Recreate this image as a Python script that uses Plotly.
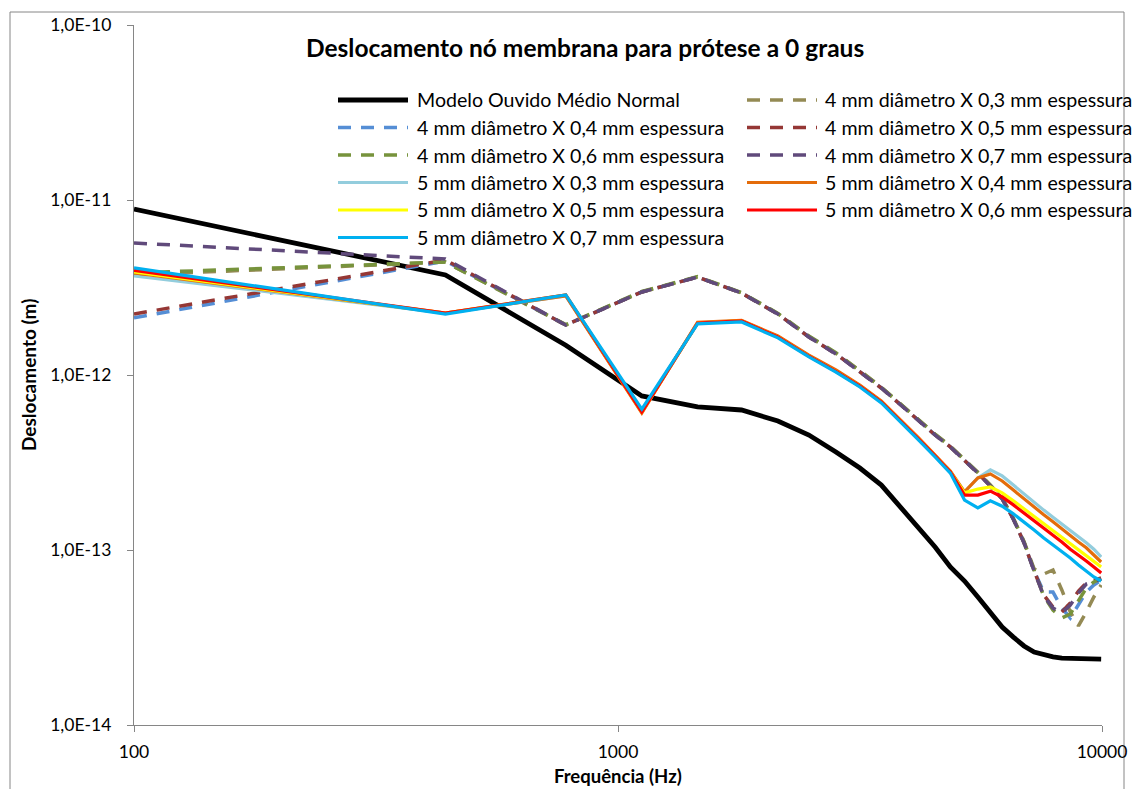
import plotly.graph_objects as go

# Frequency sweep (Hz)
freq_hz = [100, 440, 780, 1120, 1460, 1800, 2140, 2480, 2820, 3160,
           3500, 3840, 4180, 4520, 4860, 5200, 5540, 5880, 6220, 6560,
           6900, 7240, 7580, 7920, 8260, 8600, 8940, 9280, 9620, 9960]

# Membrane node displacement (m)
modelo_normal = [8.88e-12, 3.73e-12, 1.48e-12, 7.59e-13, 6.57e-13, 6.31e-13, 5.46e-13, 4.54e-13, 3.63e-13, 2.94e-13,
                 2.35e-13, 1.74e-13, 1.34e-13, 1.04e-13, 8.0e-14, 6.65e-14, 5.39e-14, 4.42e-14, 3.63e-14, 3.18e-14,
                 2.83e-14, 2.61e-14, 2.51e-14, 2.45e-14, 2.41e-14, 2.40e-14, 2.40e-14, 2.39e-14, 2.38e-14, 2.38e-14]

d4_e03 = [3.73e-12, 4.42e-12, 1.93e-12, 2.98e-12, 3.63e-12, 2.94e-12, 2.24e-12, 1.66e-12, 1.33e-12, 1.06e-12,
          8.50e-13, 6.80e-13, 5.52e-13, 4.60e-13, 3.92e-13, 3.30e-13, 2.78e-13, 2.35e-13, 1.98e-13, 1.52e-13,
          1.12e-13, 7.80e-14, 7.29e-14, 7.69e-14, 5.91e-14, 4.42e-14, 3.68e-14, 4.42e-14, 5.39e-14, 6.31e-14]
d4_e04 = [2.12e-12, 4.48e-12, 1.93e-12, 2.98e-12, 3.63e-12, 2.94e-12, 2.23e-12, 1.65e-12, 1.32e-12, 1.05e-12,
          8.43e-13, 6.74e-13, 5.46e-13, 4.54e-13, 3.88e-13, 3.27e-13, 2.75e-13, 2.32e-13, 1.96e-13, 1.50e-13,
          1.10e-13, 7.59e-14, 5.75e-14, 5.75e-14, 4.66e-14, 4.09e-14, 4.85e-14, 5.75e-14, 6.31e-14, 6.74e-14]
d4_e05 = [2.23e-12, 4.54e-12, 1.93e-12, 2.98e-12, 3.63e-12, 2.94e-12, 2.23e-12, 1.65e-12, 1.32e-12, 1.05e-12,
          8.43e-13, 6.74e-13, 5.46e-13, 4.54e-13, 3.88e-13, 3.27e-13, 2.75e-13, 2.32e-13, 1.96e-13, 1.50e-13,
          1.10e-13, 7.59e-14, 5.53e-14, 4.72e-14, 4.42e-14, 4.98e-14, 5.83e-14, 6.48e-14, 6.74e-14, 6.92e-14]
d4_e06 = [3.83e-12, 4.42e-12, 1.94e-12, 3.00e-12, 3.65e-12, 2.96e-12, 2.25e-12, 1.67e-12, 1.34e-12, 1.06e-12,
          8.50e-13, 6.80e-13, 5.50e-13, 4.58e-13, 3.90e-13, 3.29e-13, 2.77e-13, 2.34e-13, 1.97e-13, 1.51e-13,
          1.11e-13, 7.65e-14, 5.46e-14, 4.54e-14, 4.09e-14, 4.31e-14, 5.18e-14, 6.06e-14, 6.57e-14, 6.83e-14]
d4_e07 = [5.68e-12, 4.60e-12, 1.93e-12, 2.98e-12, 3.63e-12, 2.94e-12, 2.23e-12, 1.65e-12, 1.32e-12, 1.05e-12,
          8.43e-13, 6.74e-13, 5.46e-13, 4.54e-13, 3.88e-13, 3.27e-13, 2.75e-13, 2.32e-13, 1.96e-13, 1.50e-13,
          1.10e-13, 7.59e-14, 5.46e-14, 4.66e-14, 4.37e-14, 4.85e-14, 5.68e-14, 6.39e-14, 6.65e-14, 6.83e-14]

d5_e03 = [3.68e-12, 2.26e-12, 2.83e-12, 6.15e-13, 1.98e-12, 2.04e-12, 1.65e-12, 1.28e-12, 1.05e-12, 8.65e-13,
          7.01e-13, 5.46e-13, 4.31e-13, 3.45e-13, 2.79e-13, 2.15e-13, 2.58e-13, 2.87e-13, 2.65e-13, 2.35e-13,
          2.09e-13, 1.88e-13, 1.69e-13, 1.54e-13, 1.41e-13, 1.30e-13, 1.19e-13, 1.10e-13, 1.01e-13, 9.12e-14]
d5_e04 = [3.83e-12, 2.26e-12, 2.83e-12, 6.06e-13, 2.00e-12, 2.05e-12, 1.67e-12, 1.30e-12, 1.07e-12, 8.77e-13,
          7.10e-13, 5.53e-13, 4.37e-13, 3.49e-13, 2.83e-13, 2.15e-13, 2.58e-13, 2.72e-13, 2.48e-13, 2.20e-13,
          1.96e-13, 1.76e-13, 1.59e-13, 1.45e-13, 1.32e-13, 1.20e-13, 1.11e-13, 1.03e-13, 9.36e-14, 8.54e-14]
d5_e05 = [3.88e-12, 2.26e-12, 2.87e-12, 6.15e-13, 1.98e-12, 2.04e-12, 1.65e-12, 1.28e-12, 1.05e-12, 8.65e-13,
          7.01e-13, 5.46e-13, 4.31e-13, 3.45e-13, 2.79e-13, 2.12e-13, 2.23e-13, 2.29e-13, 2.12e-13, 1.91e-13,
          1.72e-13, 1.54e-13, 1.41e-13, 1.28e-13, 1.17e-13, 1.08e-13, 1.00e-13, 9.24e-14, 8.54e-14, 8.00e-14]
d5_e06 = [3.96e-12, 2.26e-12, 2.87e-12, 6.15e-13, 1.98e-12, 2.04e-12, 1.65e-12, 1.28e-12, 1.05e-12, 8.65e-13,
          7.01e-13, 5.46e-13, 4.31e-13, 3.45e-13, 2.79e-13, 2.06e-13, 2.06e-13, 2.17e-13, 2.01e-13, 1.81e-13,
          1.63e-13, 1.46e-13, 1.34e-13, 1.22e-13, 1.11e-13, 1.01e-13, 9.36e-14, 8.65e-14, 8.00e-14, 7.39e-14]
d5_e07 = [4.09e-12, 2.23e-12, 2.87e-12, 6.39e-13, 1.96e-12, 2.01e-12, 1.63e-12, 1.27e-12, 1.04e-12, 8.54e-13,
          6.92e-13, 5.39e-13, 4.25e-13, 3.40e-13, 2.75e-13, 1.93e-13, 1.74e-13, 1.91e-13, 1.78e-13, 1.61e-13,
          1.45e-13, 1.30e-13, 1.17e-13, 1.07e-13, 9.74e-14, 9.00e-14, 8.21e-14, 7.59e-14, 7.01e-14, 6.65e-14]

series_names = [
    "Modelo Ouvido Médio Normal",
    "4 mm diâmetro X 0,3 mm espessura",
    "4 mm diâmetro X 0,4 mm espessura",
    "4 mm diâmetro X 0,5 mm espessura",
    "4 mm diâmetro X 0,6 mm espessura",
    "4 mm diâmetro X 0,7 mm espessura",
    "5 mm diâmetro X 0,3 mm espessura",
    "5 mm diâmetro X 0,4 mm espessura",
    "5 mm diâmetro X 0,5 mm espessura",
    "5 mm diâmetro X 0,6 mm espessura",
    "5 mm diâmetro X 0,7 mm espessura",
]
series_values = [modelo_normal, d4_e03, d4_e04, d4_e05, d4_e06, d4_e07,
                 d5_e03, d5_e04, d5_e05, d5_e06, d5_e07]

y_ticks = [1e-14, 1e-13, 1e-12, 1e-11, 1e-10]
y_tick_labels = ["1,0E-14", "1,0E-13", "1,0E-12", "1,0E-11", "1,0E-10"]
x_ticks = [100, 1000, 10000]
x_tick_labels = ["100", "1000", "10000"]

DASH = "13px,10px"
styles = [
    ("#000000", "solid", 4.8),
    ("#948A54", DASH, 3.5),
    ("#558ED5", DASH, 3.5),
    ("#953735", DASH, 3.5),
    ("#77933C", DASH, 3.5),
    ("#604A7B", DASH, 3.5),
    ("#93CDDD", "solid", 3.2),
    ("#E46C0A", "solid", 3.2),
    ("#FFFF00", "solid", 3.2),
    ("#FF0000", "solid", 3.2),
    ("#00B0F0", "solid", 3.2),
]

FONT = "Lato"
W, H = 1135, 789
L, R, T, B = 134, 1102, 25, 725  # plot area in pixels


def px_x(px):
    return (px - L) / (R - L)


def px_y(py):
    return (B - py) / (B - T)


fig = go.Figure()
for name, vals, (color, dash, width) in zip(series_names, series_values, styles):
    fig.add_trace(go.Scatter(
        x=freq_hz, y=vals, mode="lines", name=name,
        line=dict(color=color, dash=dash, width=width),
        showlegend=False,
    ))

# Two-column legend drawn row by row
shapes = []
annotations = []
col_line = [(338, 408), (747, 817)]
col_text = [415, 823]
for i, (name, (color, dash, width)) in enumerate(zip(series_names, styles)):
    row, col = divmod(i, 2)
    yy = 100 + 27.5 * row
    x0, x1 = col_line[col]
    shapes.append(dict(type="line", xref="paper", yref="paper",
                       x0=px_x(x0), x1=px_x(x1), y0=px_y(yy), y1=px_y(yy),
                       line=dict(color=color, dash=dash, width=width)))
    annotations.append(dict(xref="paper", yref="paper", x=px_x(col_text[col]), y=px_y(yy),
                            xanchor="left", yanchor="middle", showarrow=False,
                            text=name, font=dict(family=FONT, size=19.6, color="#000000")))

# Chart frame
shapes.append(dict(type="rect", xref="paper", yref="paper",
                   x0=px_x(10), x1=px_x(1124), y0=px_y(800), y1=px_y(12),
                   line=dict(color="#868686", width=1), layer="below"))

annotations.append(dict(xref="paper", yref="paper", x=px_x(585), y=px_y(48),
                        xanchor="center", yanchor="middle", showarrow=False,
                        text="<b>Deslocamento nó membrana para prótese a 0 graus</b>",
                        font=dict(family=FONT, size=24.5, color="#000000")))
annotations.append(dict(xref="paper", yref="paper", x=px_x(28), y=0.5,
                        xanchor="center", yanchor="middle", showarrow=False, textangle=-90,
                        text="<b>Deslocamento (m)</b>",
                        font=dict(family=FONT, size=19, color="#000000")))
annotations.append(dict(xref="paper", yref="paper", x=0.5, y=px_y(776),
                        xanchor="center", yanchor="middle", showarrow=False,
                        text="<b>Frequência (Hz)</b>",
                        font=dict(family=FONT, size=18.5, color="#000000")))

axis_common = dict(showline=True, linecolor="#868686", linewidth=1.3, showgrid=False,
                   zeroline=False, ticks="outside", tickcolor="#868686", ticklen=6,
                   tickfont=dict(family=FONT, size=17.5, color="#000000"), mirror=False,
                   automargin=False)

fig.update_layout(
    width=W, height=H,
    margin=dict(l=L, r=W - R, t=T, b=H - B, pad=0, autoexpand=False),
    paper_bgcolor="white", plot_bgcolor="white",
    xaxis=dict(type="log", range=[2, 4], tickvals=x_ticks, ticktext=x_tick_labels,
               ticklabelstandoff=5, **axis_common),
    yaxis=dict(type="log", range=[-14, -10], tickvals=y_ticks, ticktext=y_tick_labels,
               ticklabelstandoff=12, **axis_common),
    shapes=shapes,
    annotations=annotations,
    showlegend=False,
)

fig.write_html("out.html")
